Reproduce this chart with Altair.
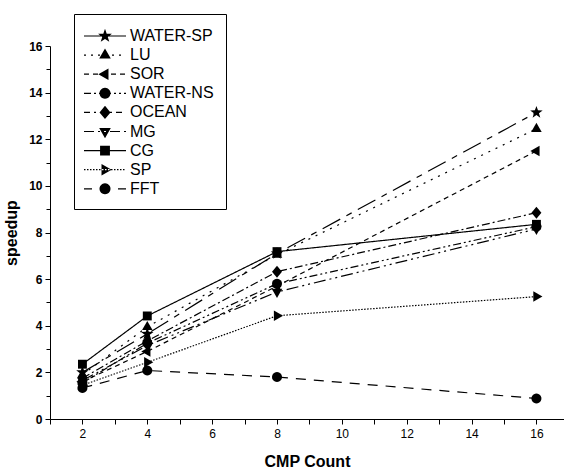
import math
import altair as alt
import pandas as pd

# Speedup per benchmark as the number of CMPs grows
series = ["WATER-SP", "LU", "SOR", "WATER-NS", "OCEAN", "MG", "CG", "SP", "FFT"]
cmp_count = [2, 4, 8, 16]
water_sp = [2.00, 3.65, 7.10, 13.15]
lu = [1.90, 3.95, 7.05, 12.45]
sor = [1.60, 2.90, 5.70, 11.50]
water_ns = [1.55, 3.25, 5.80, 8.25]
ocean = [1.75, 3.35, 6.32, 8.85]
mg = [1.65, 3.15, 5.45, 8.15]
cg = [2.35, 4.42, 7.18, 8.35]
sp = [1.45, 2.43, 4.43, 5.25]
fft = [1.33, 2.08, 1.80, 0.88]

# axis ticks
x_major = [2, 4, 6, 8, 10, 12, 14, 16]
x_minor = [1, 3, 5, 7, 9, 11, 13, 15]
y_major = [0, 2, 4, 6, 8, 10, 12, 14, 16]
y_minor = [1, 3, 5, 7, 9, 11, 13, 15]

values = [water_sp, lu, sor, water_ns, ocean, mg, cg, sp, fft]
rows = []
for name, ys in zip(series, values):
    for x, y in zip(cmp_count, ys):
        rows.append({"series": name, "cmp": x, "speedup": y})
df = pd.DataFrame(rows)

# line styles (dash arrays in px) for the plotted curves
plot_dash = [
    [20, 7, 6, 7],        # WATER-SP
    [2, 6],               # LU
    [5, 4],               # SOR
    [8, 3, 2, 3, 2, 3],   # WATER-NS
    [8, 3, 2, 3],         # OCEAN
    [12, 4, 2, 4, 2, 4],  # MG
    [1, 0],               # CG
    [1.5, 1.5],           # SP
    [10, 8],              # FFT
]
# line styles as drawn in the legend samples
legend_dash = [
    [],
    [2, 5],
    [5, 4],
    [7, 3, 2, 3, 2, 3],
    [6, 4, 2, 4],
    [10, 4, 2, 4, 2, 4],
    [],
    [1.5, 1.5],
    [8, 26],
]


def polygon(points, s=1.0):
    return "M" + "L".join(f"{x * s:.3f},{y * s:.3f}" for x, y in points) + "Z"


def star(outer=1.25, inner=0.5):
    pts = []
    for i in range(10):
        r = outer if i % 2 == 0 else inner
        a = -math.pi / 2 + i * math.pi / 5
        pts.append((r * math.cos(a), r * math.sin(a)))
    return pts


def circle(r=0.95, n=24):
    return [(r * math.cos(2 * math.pi * i / n), r * math.sin(2 * math.pi * i / n)) for i in range(n)]


marker_pts = [
    star(),
    [(0, -1.15), (1.0, 0.6), (-1.0, 0.6)],
    [(-1.15, 0), (0.6, -1.0), (0.6, 1.0)],
    circle(),
    [(0, -1.15), (0.95, 0), (0, 1.15), (-0.95, 0)],
    [(0, 1.15), (1.0, -0.6), (-1.0, -0.6)],
    [(-0.85, -0.85), (0.85, -0.85), (0.85, 0.85), (-0.85, 0.85)],
    [(1.15, 0), (-0.6, -1.0), (-0.6, 1.0)],
    circle(),
]

plot_shapes = [polygon(p) for p in marker_pts]

# legend sample: dashed segment (as thin filled bars) plus marker; unit = 10 px
LEG_UNIT = 10.0
HALF = 21.0
BAR = 0.6  # half thickness of a sample segment, px
LEG_MARK = 0.58


def bar(x0, x1):
    a, b, h = x0 / LEG_UNIT, x1 / LEG_UNIT, BAR / LEG_UNIT
    return f"M{a:.3f},{-h:.3f}L{b:.3f},{-h:.3f}L{b:.3f},{h:.3f}L{a:.3f},{h:.3f}Z"


def legend_path(dash, pts):
    segs = []
    if not dash:
        segs.append(bar(-HALF, HALF))
    else:
        pos = -HALF
        i = 0
        while pos < HALF:
            length = dash[i % len(dash)]
            end = min(pos + length, HALF)
            if i % 2 == 0:
                segs.append(bar(pos, end))
            pos += length
            i += 1
    return "".join(segs) + polygon(pts, LEG_MARK)


legend_shapes = [legend_path(d, p) for d, p in zip(legend_dash, marker_pts)]

x_scale = alt.Scale(domain=[1, 16.85], nice=False, zero=False)
y_scale = alt.Scale(domain=[0, 16], nice=False, zero=False)

base = alt.Chart(df)

lines = base.mark_line(color="black", strokeWidth=1.2).encode(
    x=alt.X(
        "cmp:Q",
        scale=x_scale,
        axis=alt.Axis(
            title="CMP Count",
            orient="bottom",
            values=x_major,
            labelOverlap=False,
            labelFontSize=12,
            labelPadding=4,
            titleFontSize=16,
            titleFontWeight="bold",
            titlePadding=14,
        ),
    ),
    y=alt.Y(
        "speedup:Q",
        scale=y_scale,
        axis=alt.Axis(
            title="speedup",
            orient="left",
            values=y_major,
            labelOverlap=False,
            labelFontSize=12,
            labelFontWeight="bold",
            labelPadding=3,
            titleFontSize=16,
            titleFontWeight="bold",
            titlePadding=9,
        ),
    ),
    detail="series:N",
    strokeDash=alt.StrokeDash(
        "series:N",
        scale=alt.Scale(domain=series, range=plot_dash),
        legend=None,
    ),
)

# unlabeled minor ticks on both axes
minor = base.transform_filter("false").mark_point(opacity=0).encode(
    x=alt.X(
        "cmp:Q",
        scale=x_scale,
        axis=alt.Axis(title=None, orient="bottom", values=x_minor, labels=False,
                      domain=False, tickSize=5),
    ),
    y=alt.Y(
        "speedup:Q",
        scale=y_scale,
        axis=alt.Axis(title=None, orient="left", values=y_minor, labels=False,
                      domain=False, tickSize=4),
    ),
)

points = base.mark_point(filled=True, color="black", size=110, opacity=1).encode(
    x=alt.X("cmp:Q", axis=None),
    y=alt.Y("speedup:Q", axis=None),
    shape=alt.Shape(
        "series:N",
        scale=alt.Scale(domain=series, range=plot_shapes),
        legend=None,
    ),
)

legend_layer = base.transform_filter("false").mark_point(
    filled=True, color="black", size=400, opacity=1
).encode(
    x=alt.X("cmp:Q", axis=None),
    y=alt.Y("speedup:Q", axis=None),
    shape=alt.Shape(
        "series:N",
        scale=alt.Scale(domain=series, range=legend_shapes),
        legend=alt.Legend(
            title=None,
            orient="none",
            legendX=24,
            legendY=-32,
            padding=12,
            strokeColor="black",
            symbolSize=400,
            symbolOffset=9,
            symbolFillColor="black",
            symbolStrokeWidth=0,
            labelFont="Liberation Sans",
            labelFontSize=16,
            labelOffset=15,
            rowPadding=1.1,
            labelLimit=300,
        ),
    ),
)

chart = (
    alt.layer(lines, minor, points, legend_layer)
    .resolve_scale(shape="independent")
    .resolve_axis(x="independent", y="independent")
    .properties(
        width=514,
        height=373,
        autosize=alt.AutoSizeParams(type="none"),
        padding={"left": 50, "top": 46, "right": 0, "bottom": 53},
        background="white",
    )
    .configure_view(stroke=None)
    .configure_axis(
        grid=False,
        domainColor="black",
        tickColor="black",
        domainWidth=1,
        tickWidth=1,
        tickSize=5,
        labelColor="black",
        titleColor="black",
        labelFont="Liberation Sans",
        titleFont="Liberation Sans",
    )
)

chart.save("out.html", embed_options={"renderer": "svg", "actions": False})
